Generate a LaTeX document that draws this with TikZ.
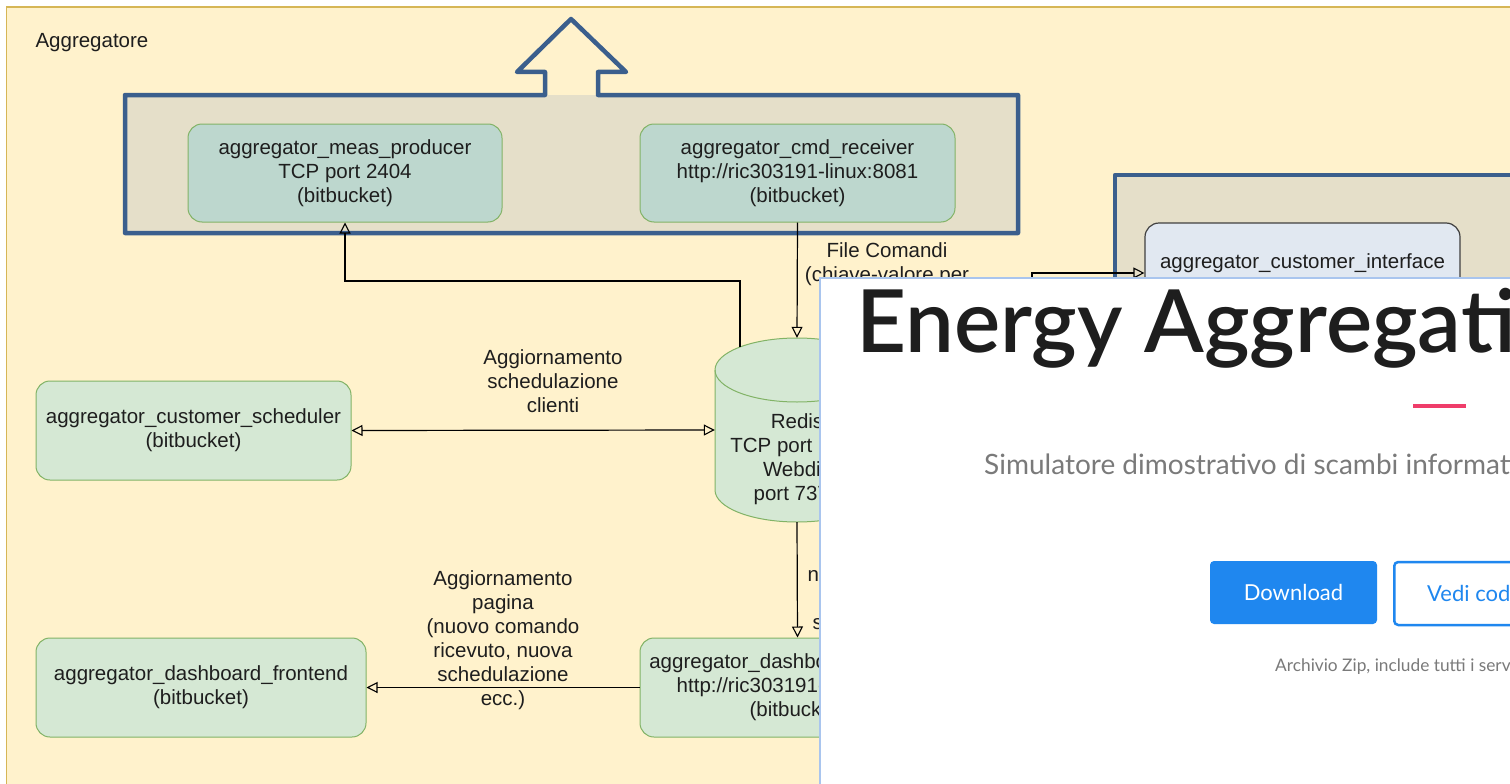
\documentclass[tikz,border=0pt]{standalone}
\usepackage{fontspec}
\setmainfont{Liberation Sans}
\newfontfamily\webfont{Lato}
\newfontfamily\webhead{Lato Semibold}
\usetikzlibrary{arrows.meta}

\definecolor{panelfill}{HTML}{FFF2CC}
\definecolor{panelline}{HTML}{D6B656}
\definecolor{greenfill}{HTML}{D5E8D4}
\definecolor{greenline}{HTML}{82B366}
\definecolor{tealfill}{HTML}{BDD7CE}
\definecolor{groupfill}{HTML}{E5DFC9}
\definecolor{groupline}{HTML}{3B5F8D}
\definecolor{bluefill}{HTML}{E1E8F1}
\definecolor{txt}{HTML}{1E1E1E}
\definecolor{webline}{HTML}{A9C5EE}
\definecolor{btnblue}{HTML}{1F87EF}
\definecolor{accent}{HTML}{EF3D6A}
\definecolor{subgrey}{HTML}{7A7A7A}

\tikzset{
  dtext/.style={font=\fontsize{20.5}{24}\selectfont, text=txt, align=center},
  svc/.style={dtext, draw=greenline, fill=greenfill, line width=1pt,
              rounded corners=14pt, inner sep=0pt,
              execute at begin node={\vspace*{5pt}}},
  svcin/.style={svc, fill=tealfill},
  conn/.style={draw=black, line width=1.2pt},
  tip/.style={-{Triangle[open, length=11pt, width=11pt, line width=1.1pt]}},
  tips/.style={{Triangle[open, length=11pt, width=11pt, line width=1.1pt]}-{Triangle[open, length=11pt, width=11pt, line width=1.1pt]}},
  grp/.style={draw=groupline, line width=4.5pt, line join=round},
}

\begin{document}
\begin{tikzpicture}[x=1pt, y=-1pt]
  \useasboundingbox (0,0) rectangle (1510,784);
  \clip (0,0) rectangle (1510,784);

  % page and container panel
  \fill[white] (0,0) rectangle (1510,784);
  \draw[fill=panelfill, draw=panelline, line width=1.3pt] (6.5,7) rectangle (1530,800);
  \node[dtext, anchor=west] (title) at (32,43) {Aggregatore};

  % exposed services group with the outgoing arrow
  \fill[groupfill] (125,95) rectangle (1018,233);
  \draw[grp] (545,95) -- (545,72) -- (517,72) -- (571,19) -- (626,72)
             -- (598,72) -- (598,95) -- (1018,95) -- (1018,233)
             -- (125,233) -- (125,95) -- cycle;

  % customer side group
  \fill[groupfill] (1115,175) rectangle (1530,400);
  \draw[grp] (1115,400) -- (1115,175) -- (1530,175);

  % services
  \node[svcin, minimum width=314pt, minimum height=98pt] (meas) at (345,173)
    {aggregator\_meas\_producer\\TCP port 2404\\(bitbucket)};
  \node[svcin, minimum width=315pt, minimum height=98pt] (cmd) at (797.5,173)
    {aggregator\_cmd\_receiver\\http://ric303191-linux:8081\\(bitbucket)};
  \node[svc, minimum width=315pt, minimum height=99pt] (sched) at (193.5,430.5)
    {aggregator\_customer\_scheduler\\(bitbucket)};
  \node[svc, minimum width=330pt, minimum height=99pt] (front) at (201,687.5)
    {aggregator\_dashboard\_frontend\\(bitbucket)};
  \node[svc, minimum width=315pt, minimum height=99pt] (back) at (797.5,687.5)
    {aggregator\_dashboard\_backend\\http://ric303191-linux:8080\\(bitbucket)};
  \node[draw=black!75, fill=bluefill, line width=1.2pt, rounded corners=14pt,
        minimum width=315pt, minimum height=100pt] (ci) at (1302.5,273) {};
  \node[dtext] (cilabel) at (1302.5,263) {aggregator\_customer\_interface};

  % Redis store (cylinder)
  \node[minimum width=164pt, minimum height=184pt, inner sep=0pt] (redis) at (797,430) {};
  \draw[draw=greenline, fill=greenfill, line width=1pt]
    (715,370) -- (715,490) arc[start angle=180, end angle=360, x radius=82, y radius=-32]
    -- (879,370) arc[start angle=0, end angle=180, x radius=82, y radius=-32] -- cycle;
  \draw[draw=greenline, line width=1pt]
    (715,370) arc[start angle=180, end angle=360, x radius=82, y radius=-32];
  \node[dtext] (redislabel) at (797,459) {Redis\\TCP port 6379\\Webdis\\port 7379};
  \coordinate (rtop) at (740,347);

  % connectors
  \draw[conn, tip] (rtop) -- (740,281) -- (345,281) -- (meas.south);
  \draw[conn, tip] (cmd.south) -- (redis.north);
  \draw[conn, tips] (sched.east) -- (redis.west);
  \draw[conn, tip] (redis.south) -- (back.north);
  \draw[conn, tip] (back.west) -- (front.east);
  \coordinate (cifrom) at (1032,320);
  \draw[conn, tip] (cifrom) -- (1032,273) -- (ci.west);

  % connector labels
  \node[dtext] (lsched) at (553,381.5) {Aggiornamento\\schedulazione\\clienti};
  \node[dtext] (lfile) at (887,264.5) {File Comandi\\(chiave-valore per};
  \node[dtext] (lback) at (889,598) {nuovo comando o\\nuova\\schedulazione di};
  \node[dtext] (lfront) at (503,640.5) {Aggiornamento\\pagina\\(nuovo comando\\ricevuto, nuova\\schedulazione\\ecc.)};

  % web page window in front
  \fill[white] (820,278) rectangle (1530,800);
  \draw[webline, line width=1.3pt] (820,800) -- (820,278) -- (1530,278);
  \node[anchor=base west, inner sep=0pt, text=txt,
        font=\webhead\fontsize{87}{96}\selectfont] (head) at (856,352)
    {Energy Aggregation};
  \draw[accent, line width=4pt] (1413,406) -- (1466,406);
  \node[anchor=base west, inner sep=0pt, text=subgrey,
        font=\webfont\fontsize{28}{32}\selectfont] (sub) at (984,474)
    {Simulatore dimostrativo di scambi informativi};
  \node[fill=btnblue, rounded corners=4pt, minimum width=167pt, minimum height=63pt,
        text=white, font=\webfont\fontsize{22}{26}\selectfont] (dl) at (1293.5,592.5) {Download};
  \node[draw=btnblue, line width=2.5pt, rounded corners=4pt, minimum width=180pt,
        minimum height=63pt, anchor=west] (code) at (1393,593.5) {};
  \node[anchor=west, inner sep=0pt, text=btnblue,
        font=\webfont\fontsize{22}{26}\selectfont] (codetext) at (1427,593) {Vedi codice};
  \node[anchor=west, inner sep=0pt, text=subgrey,
        font=\webfont\fontsize{17.3}{21}\selectfont] (zip) at (1275,667)
    {Archivio Zip, include tutti i servizi};
\end{tikzpicture}
\end{document}
